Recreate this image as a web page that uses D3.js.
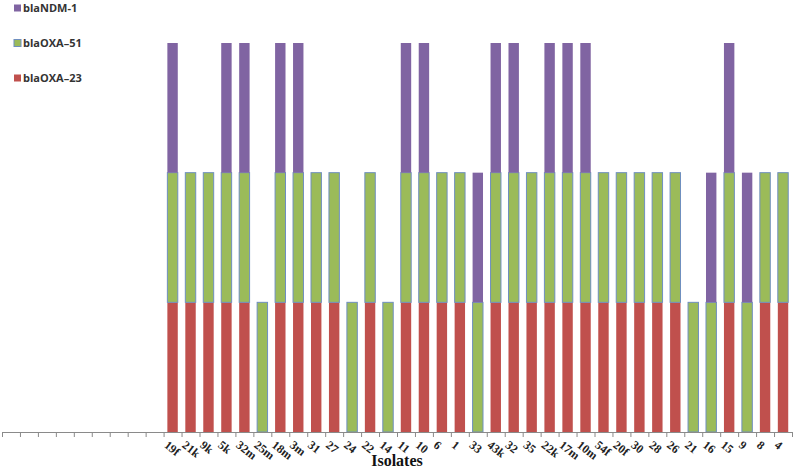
<!DOCTYPE html>
<html><head><meta charset="utf-8">
<script src="https://cdn.jsdelivr.net/npm/d3@7"></script>
<style>body{margin:0;background:#fff}svg{display:block}</style>
</head><body>
<svg id="c" width="794" height="469"></svg>
<script>
const isolates = ["","","","","","","","","",
  "19f","21k","9k","5k","32m","25m","18m","3m","31","27","24","22","14","11","10","6","1","33","43k","32","35","22k","17m","10m","54f","20f","30","28","26","21","16","15","9","8","4"];
const blaOXA23 = [0,0,0,0,0,0,0,0,0,
  1,1,1,1,1,0,1,1,1,1,0,1,0,1,1,1,1,0,1,1,1,1,1,1,1,1,1,1,1,0,0,1,0,1,1];
const blaOXA51 = [0,0,0,0,0,0,0,0,0,
  1,1,1,1,1,1,1,1,1,1,1,1,1,1,1,1,1,1,1,1,1,1,1,1,1,1,1,1,1,1,1,1,1,1,1];
const blaNDM1 = [0,0,0,0,0,0,0,0,0,
  1,0,0,1,1,0,1,1,0,0,0,0,0,1,1,0,0,1,1,1,0,1,1,1,0,0,0,0,0,0,1,1,1,0,0];
const seriesNames = ["blaOXA\u201323","blaOXA\u201351","blaNDM-1"];
const legendOrder = ["blaNDM-1","blaOXA\u201351","blaOXA\u201323"];
const colors = {"blaOXA\u201323":"#C0504D","blaOXA\u201351":"#9BBB59","blaNDM-1":"#8064A2"};
const strokes = {"blaOXA\u201323":"none","blaOXA\u201351":"#6F8FBF","blaNDM-1":"none"};
const xTitle = "Isolates";

const svg = d3.select("#c");
const n = isolates.length;
const rows = d3.range(n).map(i => ({i, [seriesNames[0]]: blaOXA23[i], [seriesNames[1]]: blaOXA51[i], [seriesNames[2]]: blaNDM1[i]}));
const stacked = d3.stack().keys(seriesNames)(rows);

const x0 = 2, x1 = 792, yBase = 432, yTop = 43;
const x = d3.scaleBand().domain(d3.range(n)).range([x0, x1]).paddingInner(0.42).paddingOuter(0.21);
const xb = d3.scaleLinear().domain([0, n]).range([x0, x1]);
const y = d3.scaleLinear().domain([0, 3]).range([yBase, yTop]);

const g = svg.append("g");
stacked.forEach(layer => {
  g.append("g").selectAll("rect").data(layer.filter(d => d[1] > d[0])).join("rect")
    .attr("x", d => x(d.data.i))
    .attr("width", x.bandwidth())
    .attr("y", d => y(d[1]))
    .attr("height", d => y(d[0]) - y(d[1]))
    .attr("fill", colors[layer.key])
    .attr("stroke", strokes[layer.key])
    .attr("stroke-width", 1);
});

// axis with ticks at category boundaries
const ax = svg.append("g").attr("transform", `translate(0,${yBase})`)
  .call(d3.axisBottom(xb).tickValues(d3.range(n + 1)).tickFormat("").tickSize(5).tickSizeOuter(0));
ax.select(".domain").attr("stroke", "#8a8a8a");
ax.selectAll(".tick line").attr("stroke", "#8a8a8a");

// labels
svg.append("g").selectAll("text").data(d3.range(n).filter(i => isolates[i] !== "")).join("text")
  .attr("transform", i => `translate(${x(i) + x.bandwidth()/2 - 4},${yBase + 8}) rotate(38)`)
  .attr("dy", "0.7em")
  .attr("font-family", "'Liberation Serif', 'Times New Roman', serif")
  .attr("font-weight", "bold")
  .attr("font-size", 12)
  .attr("fill", "#222")
  .text(i => isolates[i]);

svg.append("text")
  .attr("x", 397).attr("y", 466)
  .attr("text-anchor", "middle")
  .attr("font-family", "'Liberation Serif', 'Times New Roman', serif")
  .attr("font-weight", "bold")
  .attr("font-size", 16)
  .attr("fill", "#111")
  .text(xTitle);

// legend
const lg = svg.append("g").selectAll("g").data(legendOrder).join("g")
  .attr("transform", (d, i) => `translate(14,${8 + i * 35})`);
lg.append("rect").attr("x", 0).attr("y", -3.5).attr("width", 7).attr("height", 7)
  .attr("fill", d => colors[d]).attr("stroke", d => strokes[d] === "none" ? "none" : strokes[d]);
lg.append("text").attr("x", 9).attr("y", 0).attr("dy", "0.35em")
  .attr("font-family", "'Open Sans', 'Noto Sans', sans-serif")
  .attr("font-weight", "bold").attr("font-size", 11).attr("fill", "#333")
  .text(d => d);
</script>
</body></html>
